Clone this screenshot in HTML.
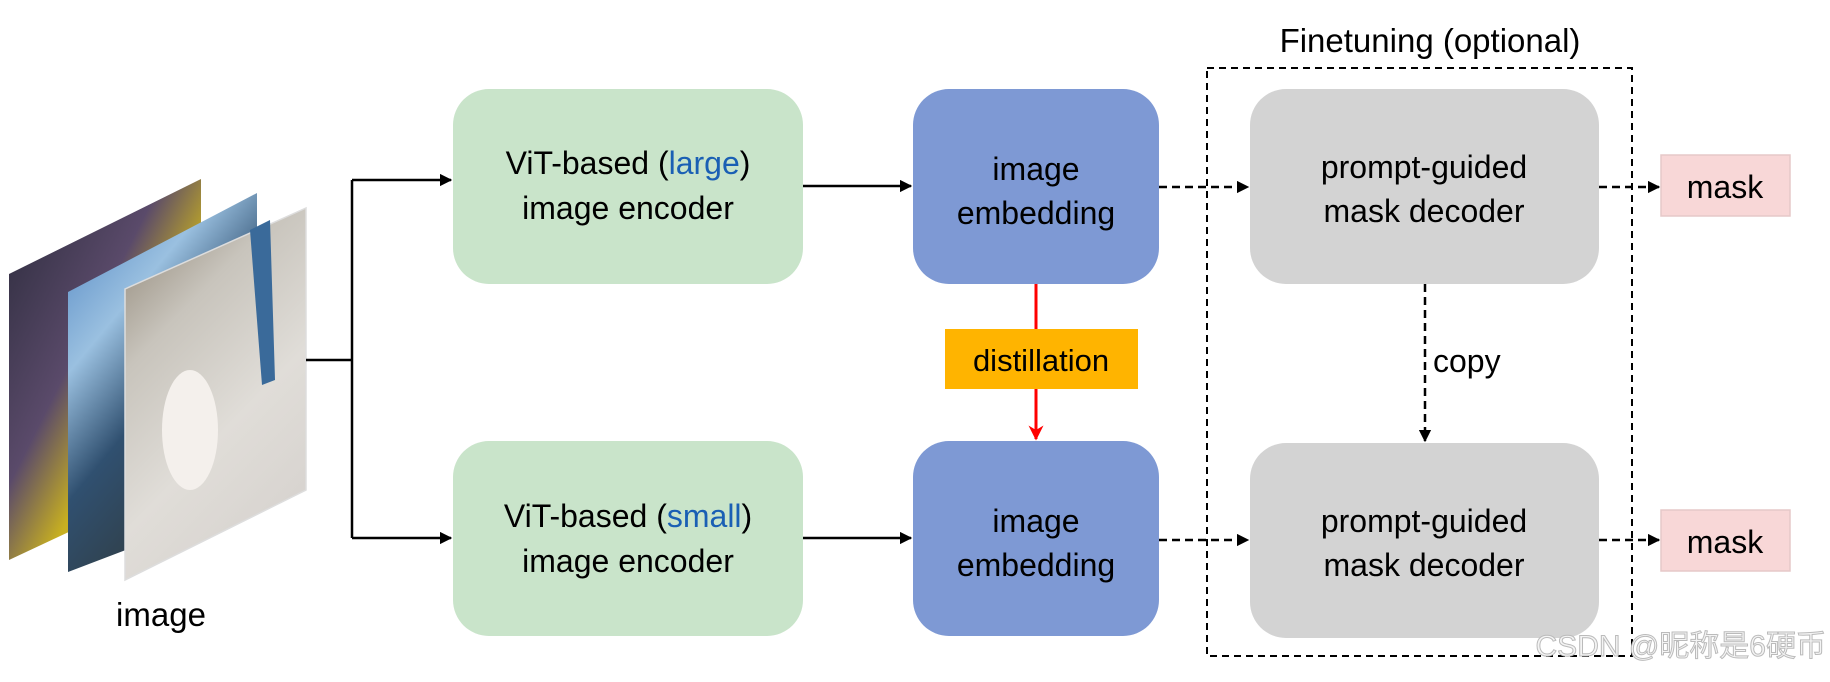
<!DOCTYPE html>
<html><head><meta charset="utf-8"><style>
html,body{margin:0;padding:0;background:#fff;}
svg{display:block;}
text{font-family:"Liberation Sans","Noto Sans CJK SC",sans-serif;}
</style></head><body>
<svg width="1830" height="682" viewBox="0 0 1830 682" xmlns="http://www.w3.org/2000/svg">
<defs>
<marker id="ah" viewBox="0 0 10 10" refX="9" refY="5" markerWidth="5" markerHeight="5" orient="auto"><path d="M0,0 L10,5 L0,10 z" fill="#000"/></marker>
<marker id="ahr" viewBox="0 0 10 10" refX="9" refY="5" markerWidth="5" markerHeight="5" orient="auto"><path d="M0,0 L10,5 L0,10 L3,5 z" fill="#f00"/></marker>
<linearGradient id="g1" x1="0" y1="0" x2="1" y2="1"><stop offset="0" stop-color="#2a2a3a"/><stop offset="0.4" stop-color="#5a4a6a"/><stop offset="0.6" stop-color="#c8b020"/><stop offset="1" stop-color="#b0b8d0"/></linearGradient>
<linearGradient id="g2" x1="0" y1="0" x2="0.6" y2="1"><stop offset="0" stop-color="#4a80c0"/><stop offset="0.35" stop-color="#9ac0e0"/><stop offset="0.6" stop-color="#305070"/><stop offset="1" stop-color="#303838"/></linearGradient>
<linearGradient id="g3" x1="0" y1="0" x2="0.5" y2="1"><stop offset="0" stop-color="#8a8070"/><stop offset="0.35" stop-color="#c8c4bc"/><stop offset="0.7" stop-color="#e0ddd8"/><stop offset="1" stop-color="#d8d4d0"/></linearGradient>
</defs>

<polygon points="9,274 201,179 201,470 9,560" fill="url(#g1)"/>
<polygon points="68,292 257,193 257,500 68,572" fill="url(#g2)"/>
<polygon points="125,289 306,208 306,490 125,580" fill="url(#g3)" stroke="#ddd" stroke-width="1.5"/>
<path d="M250,230 L270,220 L275,380 L262,385 Z" fill="#3a6a9a"/>
<ellipse cx="190" cy="430" rx="28" ry="60" fill="#f4f0ec"/>
<text x="161" y="626" font-size="33" text-anchor="middle" fill="#000">image</text>

<g stroke="#000" stroke-width="2.5" fill="none">
<line x1="306" y1="360" x2="352" y2="360"/>
<polyline points="352,180 352,538"/>
<line x1="352" y1="180" x2="451" y2="180" marker-end="url(#ah)"/>
<line x1="352" y1="538" x2="451" y2="538" marker-end="url(#ah)"/>
<line x1="803" y1="186" x2="911" y2="186" marker-end="url(#ah)"/>
<line x1="803" y1="538" x2="911" y2="538" marker-end="url(#ah)"/>
</g>

<rect x="453" y="89" width="350" height="195" rx="36" fill="#c9e4ca"/>
<rect x="453" y="441" width="350" height="195" rx="36" fill="#c9e4ca"/>
<text x="628" y="174" font-size="32" text-anchor="middle">ViT-based (<tspan fill="#1a5fb4">large</tspan>)</text>
<text x="628" y="219" font-size="32" text-anchor="middle">image encoder</text>
<text x="628" y="527" font-size="32" text-anchor="middle">ViT-based (<tspan fill="#1a5fb4">small</tspan>)</text>
<text x="628" y="572" font-size="32" text-anchor="middle">image encoder</text>

<rect x="913" y="89" width="246" height="195" rx="36" fill="#7e99d4"/>
<rect x="913" y="441" width="246" height="195" rx="36" fill="#7e99d4"/>
<text x="1036" y="180" font-size="32" text-anchor="middle">image</text>
<text x="1036" y="224" font-size="32" text-anchor="middle">embedding</text>
<text x="1036" y="532" font-size="32" text-anchor="middle">image</text>
<text x="1036" y="576" font-size="32" text-anchor="middle">embedding</text>

<line x1="1036" y1="284" x2="1036" y2="329" stroke="#f00" stroke-width="3"/>
<line x1="1036" y1="389" x2="1036" y2="439" stroke="#f00" stroke-width="3" marker-end="url(#ahr)"/>
<rect x="945" y="329" width="193" height="60" fill="#ffb400"/>
<text x="1041" y="371" font-size="31" text-anchor="middle">distillation</text>

<rect x="1207" y="68" width="425" height="588" fill="none" stroke="#000" stroke-width="2" stroke-dasharray="7,5"/>
<text x="1430" y="52" font-size="33" text-anchor="middle">Finetuning (optional)</text>

<g stroke="#000" stroke-width="2.5" fill="none" stroke-dasharray="8,5">
<line x1="1159" y1="187" x2="1248" y2="187" marker-end="url(#ah)"/>
<line x1="1159" y1="540" x2="1248" y2="540" marker-end="url(#ah)"/>
<line x1="1599" y1="187" x2="1659" y2="187" marker-end="url(#ah)"/>
<line x1="1599" y1="540" x2="1659" y2="540" marker-end="url(#ah)"/>
<line x1="1425" y1="284" x2="1425" y2="441" marker-end="url(#ah)"/>
</g>
<text x="1433" y="372" font-size="32">copy</text>

<rect x="1250" y="89" width="349" height="195" rx="36" fill="#d3d3d3"/>
<rect x="1250" y="443" width="349" height="195" rx="36" fill="#d3d3d3"/>
<text x="1424" y="178" font-size="32" text-anchor="middle">prompt-guided</text>
<text x="1424" y="222" font-size="32" text-anchor="middle">mask decoder</text>
<text x="1424" y="532" font-size="32" text-anchor="middle">prompt-guided</text>
<text x="1424" y="576" font-size="32" text-anchor="middle">mask decoder</text>

<rect x="1661" y="155" width="129" height="61" fill="#f8d7d7" stroke="#e6c8c8" stroke-width="1.5"/>
<rect x="1661" y="510" width="129" height="61" fill="#f8d7d7" stroke="#e6c8c8" stroke-width="1.5"/>
<text x="1725" y="198" font-size="32" text-anchor="middle">mask</text>
<text x="1725" y="553" font-size="32" text-anchor="middle">mask</text>

<text x="1826" y="656" font-size="30" text-anchor="end" fill="#f4f4f4" stroke="#bbb" stroke-width="1">CSDN @昵称是6硬币</text>
</svg>
</body></html>
